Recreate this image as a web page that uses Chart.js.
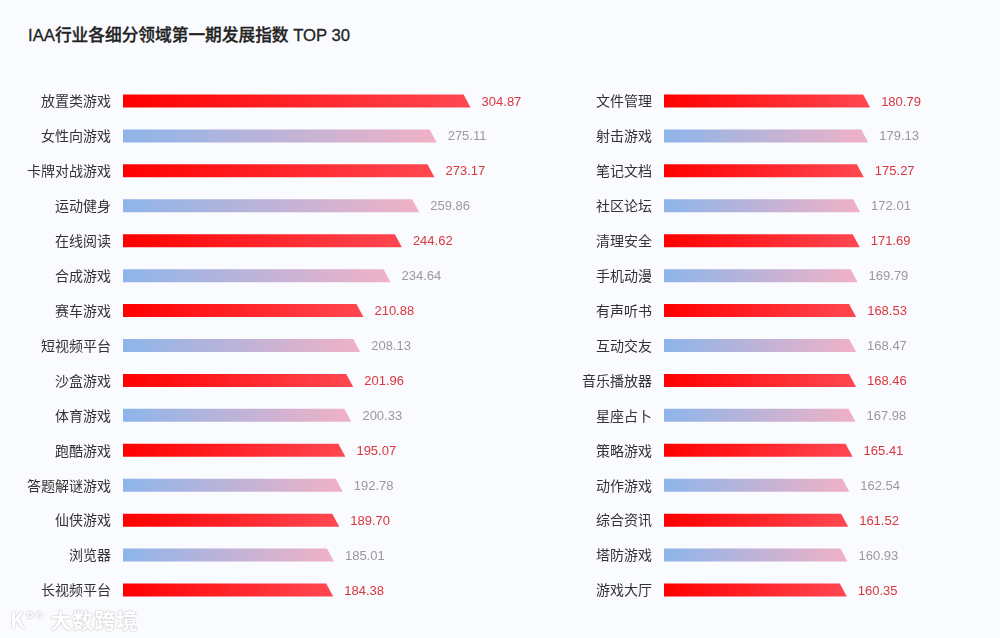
<!DOCTYPE html>
<html lang="zh">
<head>
    <meta charset="UTF-8">
    <title>IAA行业各细分领域第一期发展指数 TOP 30</title>
    <script src="https://cdn.jsdelivr.net/npm/chart.js@4.4.0/dist/chart.umd.min.js"></script>
    <style>
        html, body { margin: 0; padding: 0; }
        body {
            width: 1000px;
            height: 638px;
            background: #fafbfe;
            position: relative;
            overflow: hidden;
            font-family: "Noto Sans CJK SC", "Noto Sans", sans-serif;
        }
        .title {
            position: absolute;
            left: 28px;
            top: 22px;
            font-family: "Liberation Sans", "Noto Sans CJK SC", sans-serif;
            font-size: 16.7px;
            font-weight: 500;
            color: #222;
            white-space: nowrap;
            -webkit-text-stroke: 0.3px #222;
        }
        .panel { position: absolute; top: 0; height: 638px; }
        #leftPanel { left: 0; width: 560px; }
        #rightPanel { left: 540px; width: 460px; }
        .watermark {
            position: absolute;
            left: 10px;
            top: 604px;
            font-size: 21px;
            font-weight: bold;
            color: #ffffff;
            text-shadow: 0 0 1px #c4c4c4, 0 0 1px #c4c4c4, 0 0 2px #d0d0d0;
            letter-spacing: 1px;
        }
    </style>
</head>
<body>
    <div class="title">IAA行业各细分领域第一期发展指数 TOP 30</div>
    <div class="panel" id="leftPanel"><canvas id="leftChart"></canvas></div>
    <div class="panel" id="rightPanel"><canvas id="rightChart"></canvas></div>
    <div class="watermark">K°° 大数跨境</div>

    <script>
        // Data
        const leftLabels = ['放置类游戏', '女性向游戏', '卡牌对战游戏', '运动健身', '在线阅读', '合成游戏', '赛车游戏', '短视频平台',
            '沙盒游戏', '体育游戏', '跑酷游戏', '答题解谜游戏', '仙侠游戏', '浏览器', '长视频平台'];
        const leftValues = [304.87, 275.11, 273.17, 259.86, 244.62, 234.64, 210.88, 208.13,
            201.96, 200.33, 195.07, 192.78, 189.70, 185.01, 184.38];

        const rightLabels = ['文件管理', '射击游戏', '笔记文档', '社区论坛', '清理安全', '手机动漫', '有声听书', '互动交友',
            '音乐播放器', '星座占卜', '策略游戏', '动作游戏', '综合资讯', '塔防游戏', '游戏大厅'];
        const rightValues = [180.79, 179.13, 175.27, 172.01, 171.69, 169.79, 168.53, 168.47,
            168.46, 167.98, 165.41, 162.54, 161.52, 160.93, 160.35];

        const redStops = ['#ff0000', '#ff4852'];
        const blueStops = ['#8db5ea', '#f0b1c5'];
        const redText = '#d7373d';
        const grayText = '#9a9a9a';

        // draws slanted bars with gradient and value labels
        const slantBars = {
            id: 'slantBars',
            afterDatasetsDraw(chart) {
                const ctx = chart.ctx;
                const meta = chart.getDatasetMeta(0);
                const values = chart.data.datasets[0].data;
                meta.data.forEach((bar, i) => {
                    const x0 = bar.base;
                    const x1 = bar.x;
                    const h = bar.height;
                    const top = bar.y - h / 2;
                    const bottom = bar.y + h / 2;
                    const stops = i % 2 === 0 ? redStops : blueStops;
                    const grad = ctx.createLinearGradient(x0, 0, x1, 0);
                    grad.addColorStop(0, stops[0]);
                    grad.addColorStop(1, stops[1]);
                    ctx.save();
                    ctx.fillStyle = grad;
                    ctx.beginPath();
                    ctx.moveTo(x0, top);
                    ctx.lineTo(x1 - 7, top);
                    ctx.lineTo(x1, bottom);
                    ctx.lineTo(x0, bottom);
                    ctx.closePath();
                    ctx.fill();

                    ctx.fillStyle = i % 2 === 0 ? redText : grayText;
                    ctx.font = '13px "Liberation Sans", Arial, sans-serif';
                    ctx.textAlign = 'left';
                    ctx.textBaseline = 'middle';
                    ctx.fillText(values[i].toFixed(2), x1 + 11, bar.y + 1);
                    ctx.restore();
                });
            }
        };

        function makeChart(id, labels, values, xMax, axisWidth) {
            return new Chart(document.getElementById(id), {
                type: 'bar',
                data: {
                    labels: labels,
                    datasets: [{
                        data: values,
                        backgroundColor: 'rgba(0,0,0,0)',
                        barThickness: 13
                    }]
                },
                options: {
                    indexAxis: 'y',
                    responsive: true,
                    maintainAspectRatio: false,
                    animation: false,
                    layout: { padding: { top: 83.5, bottom: 30.5, left: 0, right: 0 } },
                    plugins: {
                        legend: { display: false },
                        tooltip: { enabled: false }
                    },
                    scales: {
                        x: {
                            display: false,
                            min: 0,
                            max: xMax
                        },
                        y: {
                            grid: { display: false, drawTicks: false },
                            border: { display: false },
                            ticks: {
                                padding: 12,
                                color: '#333',
                                font: { size: 14, family: '"Noto Sans CJK SC", sans-serif' }
                            },
                            afterFit(scale) { scale.width = axisWidth; }
                        }
                    }
                },
                plugins: [slantBars]
            });
        }

        // same px per unit on both panels (~1.14)
        makeChart('leftChart', leftLabels, leftValues, 383.3, 123);
        makeChart('rightChart', rightLabels, rightValues, 294.7, 124);
    </script>
</body>
</html>
